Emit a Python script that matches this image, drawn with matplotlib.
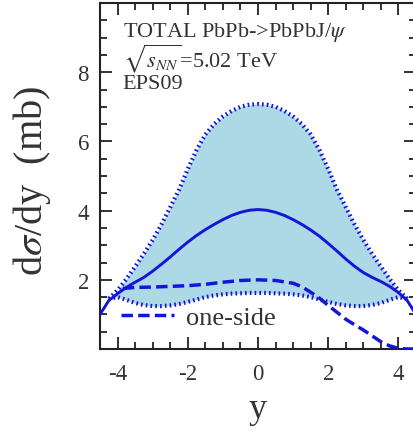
import numpy as np
import matplotlib
matplotlib.use("Agg")
import matplotlib.pyplot as plt
from matplotlib.lines import Line2D
from matplotlib.ticker import MultipleLocator

plt.rcParams["font.family"] = ["Liberation Serif", "DejaVu Serif"]
plt.rcParams["mathtext.fontset"] = "stix"

# Rapidity grid and central EPS09 prediction (mb)
y_central = [-4.5, -4.25, -4.0, -3.75, -3.5, -3.25, -3.0, -2.75, -2.5, -2.25,
             -2.0, -1.75, -1.5, -1.25, -1.0, -0.75, -0.5, -0.25, 0.0,
             0.25, 0.5, 0.75, 1.0, 1.25, 1.5, 1.75, 2.0, 2.25, 2.5, 2.75,
             3.0, 3.25, 3.5, 3.75, 4.0, 4.25, 4.5]
dsdy_central = [1.00, 1.40, 1.60, 1.78, 1.93, 2.07, 2.25, 2.45, 2.66, 2.88,
                3.09, 3.28, 3.45, 3.60, 3.74, 3.86, 3.95, 4.01, 4.03,
                4.01, 3.95, 3.86, 3.74, 3.60, 3.44, 3.26, 3.05, 2.83, 2.60, 2.39,
                2.21, 2.07, 1.95, 1.81, 1.63, 1.40, 1.00]

# Uncertainty band (upper / lower edges)
y_band = [-4.25, -4.0, -3.75, -3.5, -3.25, -3.0, -2.75, -2.5, -2.25, -2.0,
          -1.75, -1.5, -1.25, -1.0, -0.75, -0.5, -0.25, 0.0,
          0.25, 0.5, 0.75, 1.0, 1.25, 1.5, 1.75, 2.0, 2.25, 2.5, 2.75,
          3.0, 3.25, 3.5, 3.75, 4.0, 4.25]
dsdy_upper = [1.45, 1.70, 2.02, 2.38, 2.75, 3.15, 3.60, 4.10, 4.60, 5.20,
              5.75, 6.20, 6.50, 6.72, 6.88, 7.00, 7.06, 7.08,
              7.06, 7.00, 6.88, 6.72, 6.50, 6.20, 5.75, 5.20, 4.60, 4.10, 3.60,
              3.15, 2.75, 2.38, 2.02, 1.70, 1.45]
dsdy_lower = [1.45, 1.50, 1.42, 1.33, 1.27, 1.24, 1.24, 1.26, 1.30, 1.36,
              1.43, 1.50, 1.55, 1.58, 1.60, 1.61, 1.62, 1.62,
              1.62, 1.61, 1.60, 1.58, 1.55, 1.50, 1.43, 1.36, 1.30, 1.26, 1.24,
              1.24, 1.27, 1.33, 1.42, 1.50, 1.45]

# One-side contribution
y_oneside = [-3.85, -3.5, -3.0, -2.5, -2.0, -1.5, -1.0, -0.5, 0.0, 0.5,
             1.0, 1.25, 1.5, 1.75, 2.0, 2.25, 2.5, 2.75, 3.0, 3.25,
             3.5, 3.75, 4.0, 4.25, 4.5]
dsdy_oneside = [1.75, 1.78, 1.79, 1.81, 1.83, 1.87, 1.93, 1.98, 2.00, 1.98,
                1.90, 1.80, 1.64, 1.47, 1.26, 1.06, 0.86, 0.70, 0.55, 0.38,
                0.21, 0.09, 0.02, 0.00, 0.00]

x_ticks = [-4, -2, 0, 2, 4]
y_ticks = [2, 4, 6, 8]

line_color = "#1515d8"
band_color = "#add8e6"

fig = plt.figure(figsize=(4.13, 4.35), dpi=100)
ax = fig.add_axes([100 / 413, 85 / 435, 316 / 413, 346 / 435])

ax.fill_between(y_band, dsdy_lower, dsdy_upper, color=band_color, lw=0, zorder=1)
dot_style = dict(color=line_color, lw=3.0, dashes=(0.4, 0.75),
                 dash_capstyle="butt", zorder=2)
ax.plot(y_band, dsdy_upper, **dot_style)
ax.plot(y_band, dsdy_lower, **dot_style)
ax.plot(y_central, dsdy_central, color=line_color, lw=2.1, zorder=3)
ax.plot(y_oneside, dsdy_oneside, color=line_color, lw=2.5,
        dashes=(3.3, 1.5), dash_capstyle="butt", zorder=3)

ax.set_xlim(-4.5, 4.5)
ax.set_ylim(0, 10)
ax.set_xticks(x_ticks)
ax.set_yticks(y_ticks)
ax.set_xticklabels([str(t) for t in x_ticks])
ax.set_yticklabels([str(t) for t in y_ticks])
ax.xaxis.set_minor_locator(MultipleLocator(0.5))
ax.yaxis.set_minor_locator(MultipleLocator(0.5))
ax.tick_params(which="both", direction="in", top=True, right=True,
               color="#222222", width=1.3)
ax.tick_params(which="major", length=8.5, labelsize=16.5, pad=10,
               labelcolor="#333333")
ax.tick_params(axis="y", which="major", pad=8)
ax.tick_params(which="minor", length=5)
for sp in ax.spines.values():
    sp.set_linewidth(1.5)
    sp.set_color("#222222")

ax.set_xlabel("y", fontsize=26, color="#333333")
ax.xaxis.set_label_coords(0.5, -0.125)
ax.set_ylabel(r"d$\sigma$/dy  (mb)", fontsize=29, color="#333333")
ax.yaxis.set_label_coords(-0.15, 0.49)

txt = dict(fontsize=16, color="#333333", va="baseline", ha="left")
ax.text(-3.85, 9.05, r"TOTAL PbPb->PbPbJ/$\psi$", **txt)
ax.text(-3.85, 8.18, r"$\sqrt{s_{NN}}$=5.02 TeV", **txt)
ax.text(-3.85, 7.55, "EPS09", **txt)

handle = Line2D([], [], color=line_color, lw=2.5, dashes=(3.3, 1.5),
                dash_capstyle="butt")
ax.legend([handle], ["one-side"], loc="center left",
          bbox_to_anchor=(0.068, 0.092), frameon=False, fontsize=19,
          handlelength=2.0, handletextpad=0.45, borderpad=0,
          borderaxespad=0, labelcolor="#333333")

fig.savefig("out.png", dpi=100)
